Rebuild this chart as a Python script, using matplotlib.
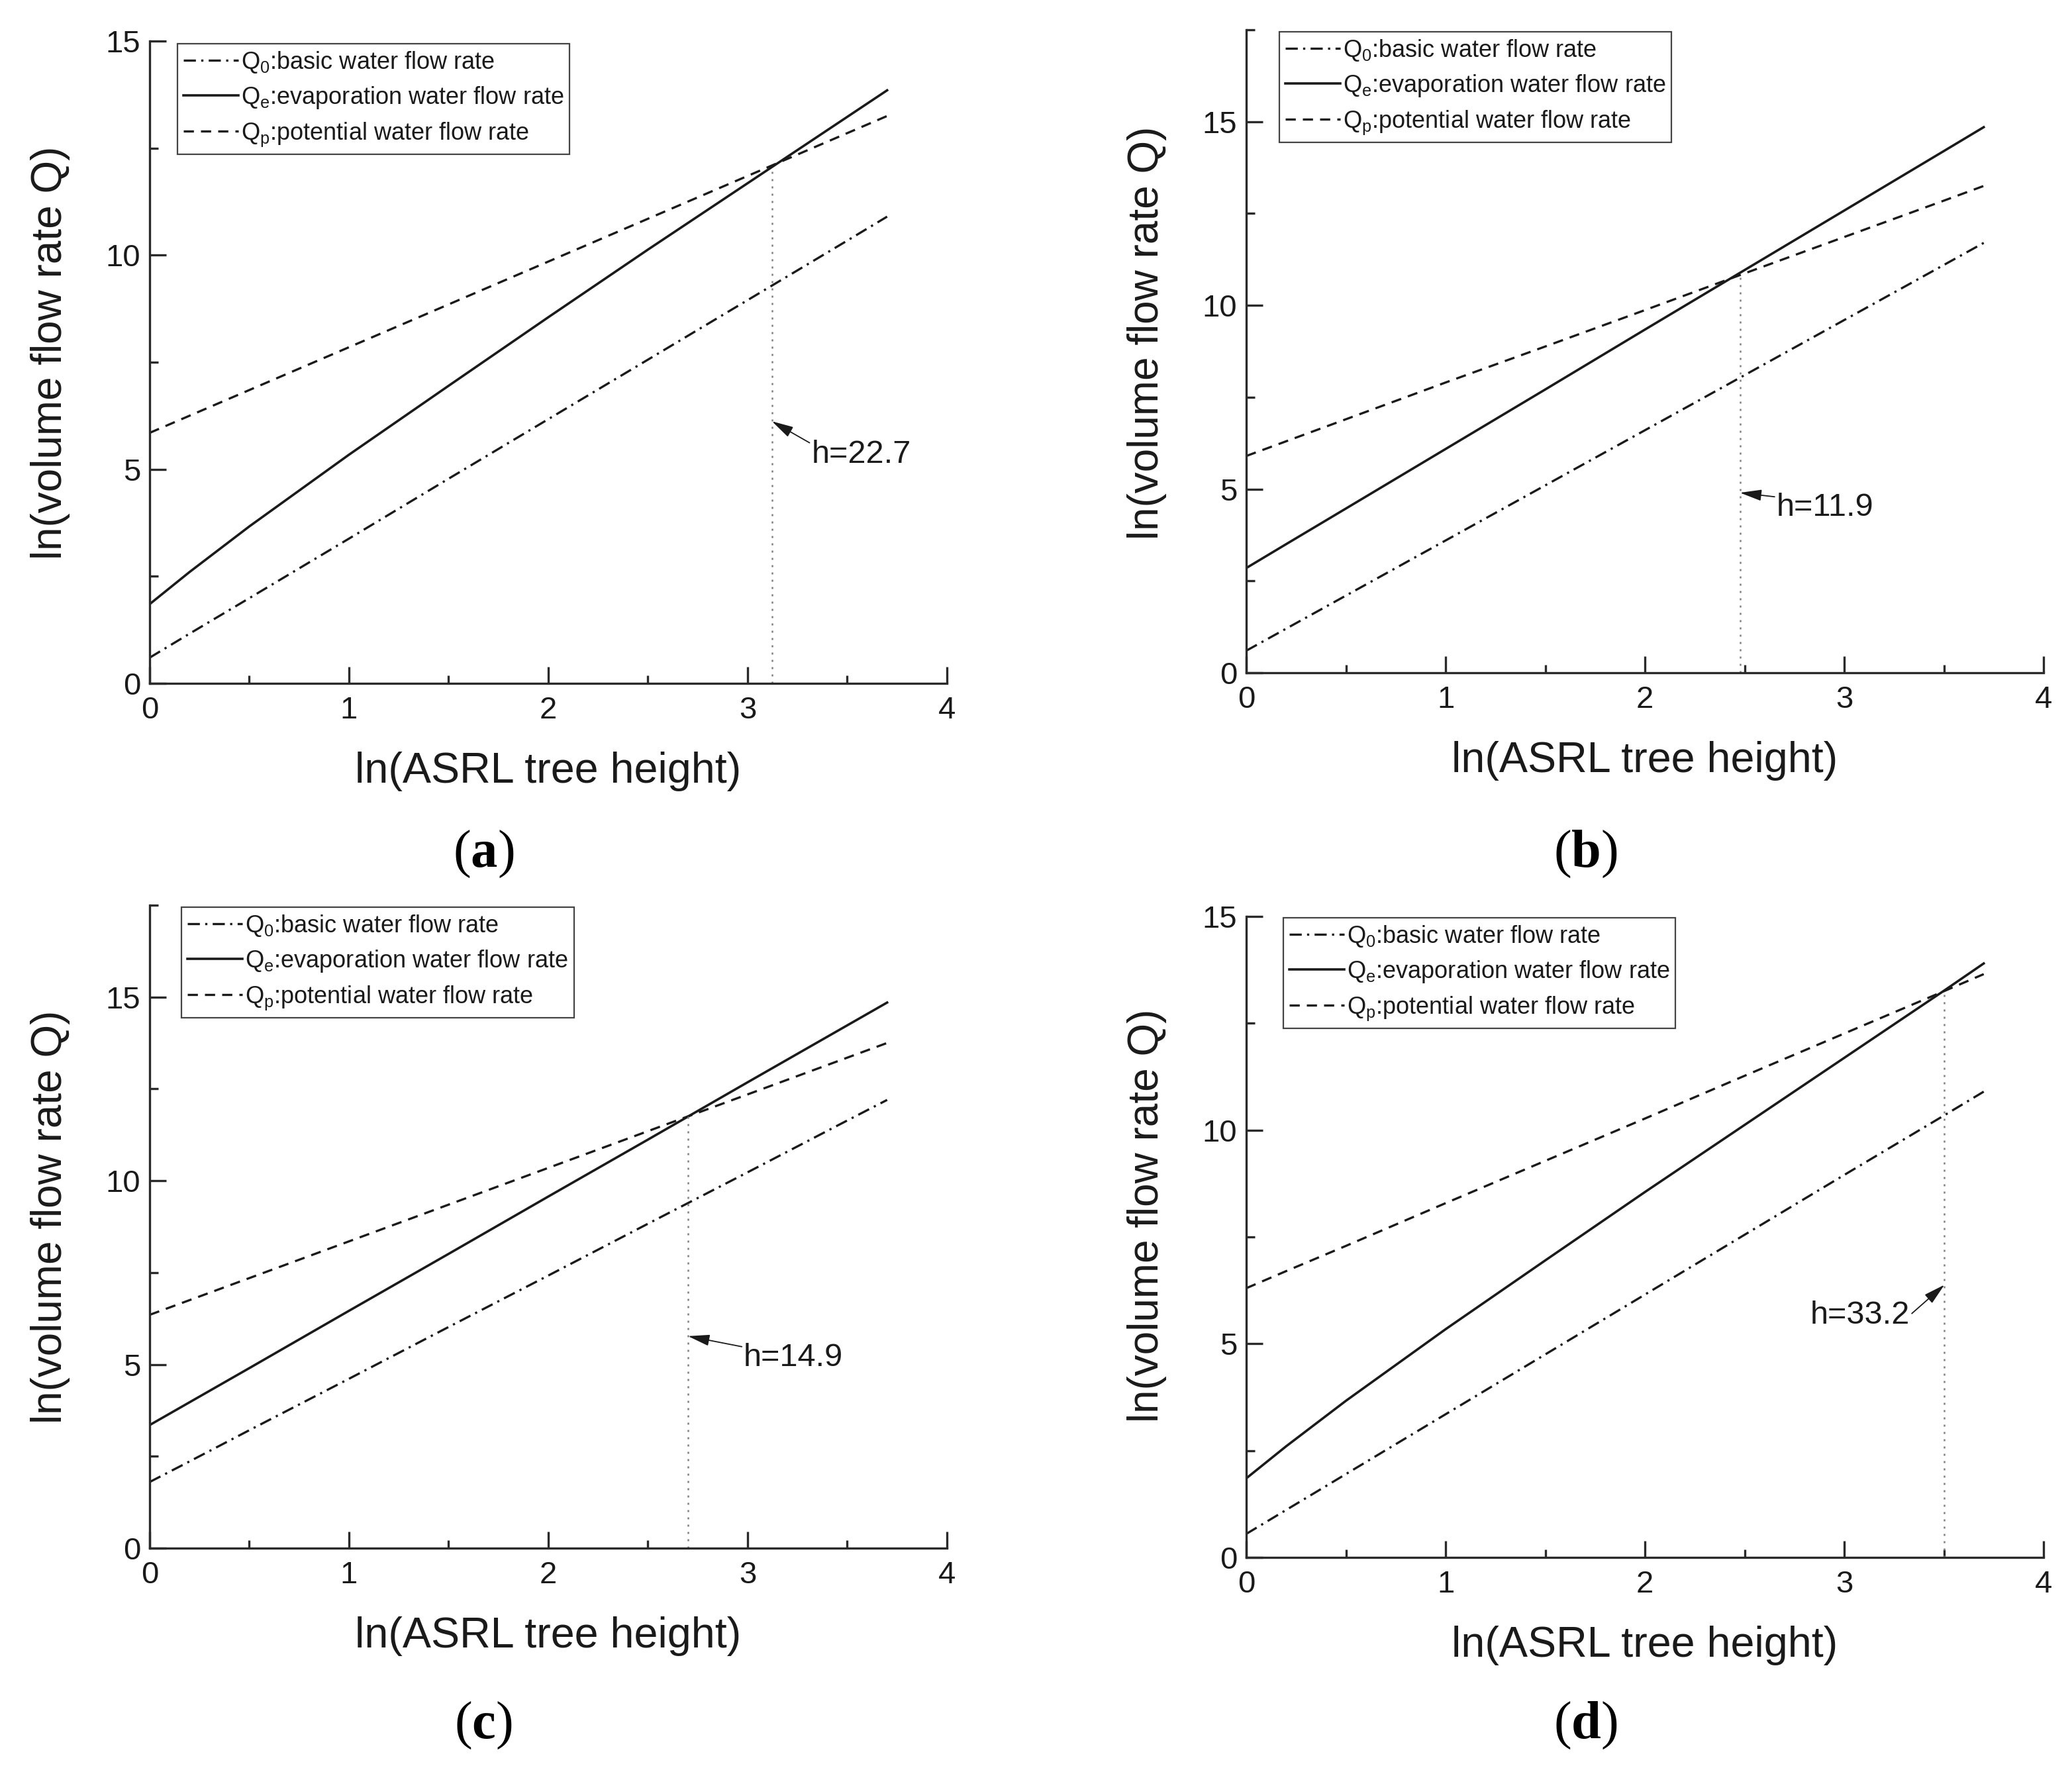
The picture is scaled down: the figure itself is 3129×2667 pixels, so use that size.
import matplotlib
matplotlib.use("Agg")
import matplotlib.pyplot as plt
from matplotlib.ticker import MultipleLocator

plt.rcParams['font.family'] = ['Liberation Sans', 'DejaVu Sans']
plt.rcParams['mathtext.fontset'] = 'custom'
plt.rcParams['mathtext.rm'] = 'Liberation Sans'
plt.rcParams['mathtext.bf'] = 'Liberation Serif:bold'
plt.rcParams['mathtext.default'] = 'regular'

# ---------------- data ----------------
x_pts = [0, 0.2, 0.5, 1.0, 1.5, 2.0, 2.5, 3.0, 3.5, 3.7]

# panel (a)
q0_a = [0.60, 1.16, 1.99, 3.38, 4.78, 6.17, 7.56, 8.95, 10.34, 10.90]
qe_a = [1.85, 2.60, 3.665, 5.34, 6.95, 8.55, 10.13, 11.68, 13.23, 13.85]
qp_a = [5.85, 6.25, 6.85, 7.85, 8.85, 9.85, 10.85, 11.85, 12.85, 13.25]
# panel (b)
q0_b = [0.60, 1.20, 2.10, 3.60, 5.10, 6.60, 8.10, 9.60, 11.10, 11.70]
qe_b = [2.85, 3.50, 4.47, 6.09, 7.71, 9.34, 10.96, 12.58, 14.20, 14.85]
qp_b = [5.90, 6.30, 6.90, 7.90, 8.88, 9.87, 10.87, 11.86, 12.85, 13.25]
# panel (c)
q0_c = [1.80, 2.36, 3.21, 4.61, 6.02, 7.42, 8.83, 10.23, 11.64, 12.20]
qe_c = [3.35, 3.97, 4.90, 6.46, 8.01, 9.57, 11.12, 12.68, 14.23, 14.85]
qp_c = [6.35, 6.75, 7.35, 8.35, 9.35, 10.35, 11.35, 12.35, 13.35, 13.75]
# panel (d)
q0_d = [0.55, 1.11, 1.95, 3.35, 4.75, 6.15, 7.55, 8.95, 10.34, 10.90]
qe_d = [1.85, 2.60, 3.665, 5.34, 6.95, 8.55, 10.12, 11.69, 13.26, 13.90]
qp_d = [6.30, 6.70, 7.29, 8.29, 9.28, 10.27, 11.27, 12.26, 13.25, 13.65]

# intersection heights (ln h) and the y value where the curves meet
h_vals = [22.7, 11.9, 14.9, 33.2]
h_x = [3.122, 2.477, 2.701, 3.503]
h_y = [12.07, 10.85, 11.75, 13.27]
arrow_tip_y = [6.12, 4.90, 5.77, 6.38]
text_xy = [(3.32, 5.35), (2.66, 4.50), (2.98, 5.19), (3.33, 5.67)]
text_side = ['left', 'left', 'left', 'right']

y_max = [15, 17.5, 17.5, 15]
panel_letters = ['a', 'b', 'c', 'd']

series = [(q0_a, qe_a, qp_a), (q0_b, qe_b, qp_b), (q0_c, qe_c, qp_c), (q0_d, qe_d, qp_d)]
labels = ['Q$_{0}$:basic water flow rate',
          'Q$_{e}$:evaporation water flow rate',
          'Q$_{p}$:potential water flow rate']

# ---------------- layout ----------------
W, H = 3129, 2667
fig = plt.figure(figsize=(W / 100, H / 100), dpi=100)

# axes rectangles in pixels: left, x-axis y (bottom), width, height
rects_px = [(226, 1032, 1204, 970),
            (1882, 1016, 1204, 971),
            (226, 2338, 1204, 971),
            (1882, 2352, 1204, 968)]
legend_anchor = [(0.035, 0.996), (0.0415, 0.997), (0.040, 0.997), (0.0465, 0.998)]
ylabel_y = [0.515, 0.529, 0.515, 0.533]
letter_pos = [(730, 1290), (2394, 1290), (730, 2606), (2394, 2606)]

ink = '#1a1a1a'
for i in range(4):
    l, b, w, h = rects_px[i]
    ax = fig.add_axes([l / W, 1 - b / H, w / W, h / H])
    q0, qe, qp = series[i]
    ax.plot(x_pts, q0, color=ink, lw=2.4, dashes=(5.5, 2.4, 1.0, 2.4), label=labels[0])
    ax.plot(x_pts, qe, color=ink, lw=2.6, label=labels[1])
    ax.plot(x_pts, qp, color=ink, lw=2.4, dashes=(4.6, 3.2), label=labels[2])

    # dotted vertical line at intersection
    ax.plot([h_x[i], h_x[i]], [0, h_y[i]], color='#808080', lw=1.8,
            dashes=(1.2, 3.2))

    side = text_side[i]
    relpos = (0.0, 0.85) if side == 'left' else (1.0, 0.5)
    ax.annotate(f'h={h_vals[i]}', xy=(h_x[i], arrow_tip_y[i]), xytext=text_xy[i],
                ha=side, va='center', fontsize=35, color=ink,
                arrowprops=dict(arrowstyle='-|>,head_length=0.5,head_width=0.13',
                                mutation_scale=40, color=ink, lw=1.3,
                                shrinkA=0, shrinkB=0, relpos=relpos))

    ax.set_xlim(0, 4)
    ax.set_ylim(0, y_max[i])
    ax.xaxis.set_major_locator(MultipleLocator(1))
    ax.xaxis.set_minor_locator(MultipleLocator(0.5))
    ax.yaxis.set_major_locator(MultipleLocator(5))
    ax.yaxis.set_minor_locator(MultipleLocator(2.5))
    for s in ['top', 'right']:
        ax.spines[s].set_visible(False)
    for s in ['left', 'bottom']:
        ax.spines[s].set_linewidth(2.4)
        ax.spines[s].set_color('#2a2a2a')
    ax.tick_params(which='major', direction='in', length=18, width=2.4,
                   labelsize=34, color='#2a2a2a', labelcolor=ink)
    ax.tick_params(which='minor', direction='in', length=9, width=2.4, color='#2a2a2a')
    ax.tick_params(axis='x', which='major', pad=14)
    ax.tick_params(axis='y', which='major', pad=10)

    ax.set_xlabel('ln(ASRL tree height)', fontsize=46.5, color=ink)
    ax.set_ylabel('ln(volume flow rate Q)', fontsize=46, color=ink)
    ax.xaxis.set_label_coords(0.5, -0.106)
    ax.yaxis.set_label_coords(-0.10, ylabel_y[i])

    leg = ax.legend(loc='upper left', bbox_to_anchor=legend_anchor[i], borderaxespad=0,
                    fontsize=26, frameon=True, fancybox=False, framealpha=1,
                    handlelength=2.3, handletextpad=0.1, labelspacing=0.42,
                    borderpad=0.25)
    leg.get_frame().set_edgecolor('#444444')
    leg.get_frame().set_linewidth(1.6)
    for t in leg.get_texts():
        t.set_color(ink)

    lx, ly = letter_pos[i]
    fig.text(lx / W, 1 - ly / H, '($\\mathbf{' + panel_letters[i] + '}$)',
             family='Liberation Serif', fontsize=58, ha='center', va='center',
             color='black')

fig.savefig('out.png', dpi=100, facecolor='white')
